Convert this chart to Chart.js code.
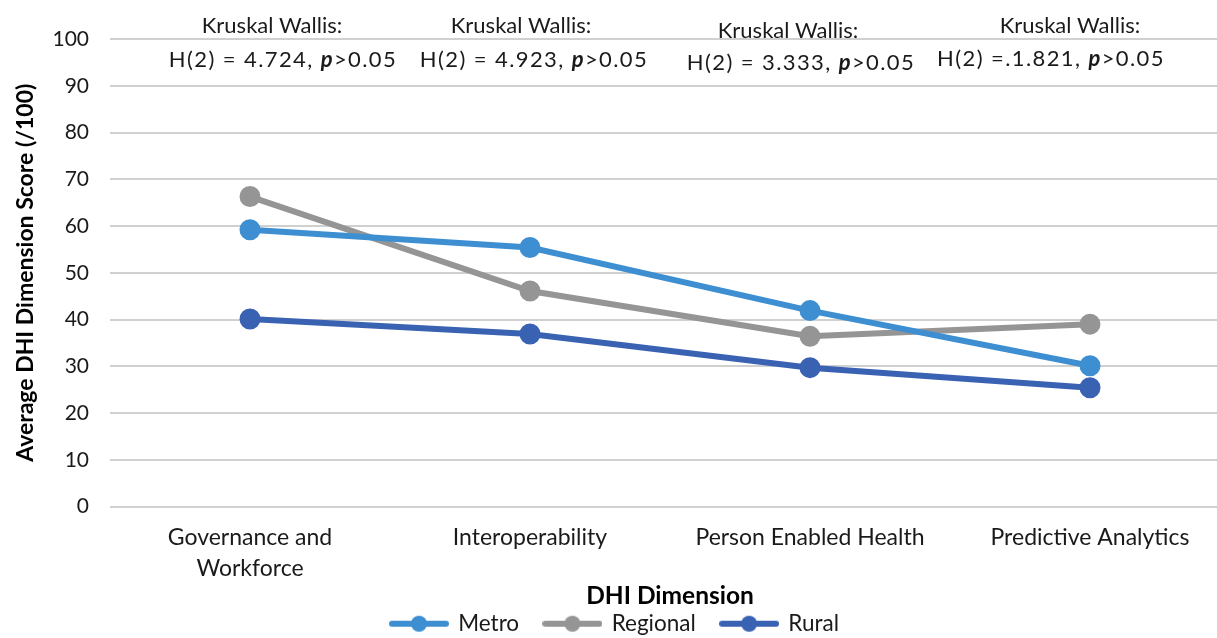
<!DOCTYPE html>
<html>
<head>
<meta charset="utf-8">
<script src="https://cdn.jsdelivr.net/npm/chart.js@4"></script>
<style>
  html, body { margin: 0; padding: 0; background: #fff; overflow: hidden; }
  #wrap { width: 1232px; height: 638px; }
</style>
</head>
<body>
<div id="wrap"><canvas id="chart"></canvas></div>
<script>
const categories = [["Governance and", "Workforce"], "Interoperability", "Person Enabled Health", "Predictive Analytics"];
const metro = [59.2, 55.4, 41.9, 30.1];
const regional = [66.3, 46.1, 36.4, 39.0];
const rural = [40.1, 36.9, 29.7, 25.4];
const yTicks = [0, 10, 20, 30, 40, 50, 60, 70, 80, 90, 100];
const testTitles = ["Kruskal Wallis:", "Kruskal Wallis:", "Kruskal Wallis:", "Kruskal Wallis:"];
const testStats = ["H(2) = 4.724, ", "H(2) = 4.923, ", "H(2) = 3.333, ", "H(2) =.1.821, "];
const testP = ">0.05";

const FONT = "Lato, 'Open Sans', sans-serif";
const colors = { metro: "#3d8fd2", regional: "#959595", rural: "#3a62b3" };

// legend swatch: a short line with a dot on it
function swatch(color) {
  const c = document.createElement("canvas");
  c.width = 60; c.height = 18;
  const g = c.getContext("2d");
  g.strokeStyle = color; g.lineWidth = 6; g.lineCap = "round";
  g.beginPath(); g.moveTo(3, 9); g.lineTo(57, 9); g.stroke();
  g.fillStyle = color;
  g.beginPath(); g.arc(30, 9, 8, 0, Math.PI * 2); g.fill();
  return c;
}

// Kruskal Wallis labels above each category
const textOffsets = [[22, 33], [-9, 4], [-22, -9], [-20, -39]];
const textRows = [[26, 60], [26, 60], [31, 63], [26, 59]];
const kwPlugin = {
  id: "kw",
  afterDraw(chart) {
    const ctx = chart.ctx;
    const xs = chart.scales.x;
    ctx.save();
    ctx.fillStyle = "#1a1a1a";
    ctx.textBaseline = "middle";
    categories.forEach((c, i) => {
      const cx = xs.getPixelForValue(i);
      ctx.letterSpacing = "0px";
      ctx.font = "22px " + FONT;
      ctx.textAlign = "center";
      ctx.fillText(testTitles[i], cx + textOffsets[i][0], textRows[i][0]);
      ctx.letterSpacing = "1.4px";
      const reg = "22px " + FONT, bi = "italic bold 22px " + FONT;
      ctx.font = reg; const w1 = ctx.measureText(testStats[i]).width, w3 = ctx.measureText(testP).width;
      ctx.font = bi; const w2 = ctx.measureText("p").width;
      let x = cx + textOffsets[i][1] - (w1 + w2 + w3) / 2;
      ctx.textAlign = "left";
      ctx.font = reg; ctx.fillText(testStats[i], x, textRows[i][1]); x += w1;
      ctx.font = bi; ctx.fillText("p", x, textRows[i][1]); x += w2;
      ctx.font = reg; ctx.fillText(testP, x, textRows[i][1]);
    });
    ctx.restore();
  }
};

function ds(label, data, color) {
  return {
    label, data,
    borderColor: color, backgroundColor: color,
    pointBackgroundColor: color, pointBorderColor: color,
    borderWidth: 6, pointRadius: 7.5, pointHoverRadius: 7.5,
    tension: 0
  };
}

new Chart(document.getElementById("chart"), {
  type: "line",
  data: {
    labels: categories,
    datasets: [
      ds("Metro", metro, colors.metro),
      ds("Regional", regional, colors.regional),
      ds("Rural", rural, colors.rural)
    ]
  },
  options: {
    responsive: true,
    maintainAspectRatio: false,
    animation: false,
    layout: { autoPadding: false, padding: { top: 39, right: 2, left: 0, bottom: -7 } },
    scales: {
      x: {
        offset: true,
        afterFit(axis) { axis.height = 98; },
        grid: { display: false, drawTicks: false },
        border: { display: false },
        ticks: { color: "#1a1a1a", font: { family: FONT, size: 23, lineHeight: 1.35 }, padding: 16, maxRotation: 0, autoSkip: false },
        title: { display: true, text: "DHI Dimension", color: "#000", font: { family: FONT, size: 24.5, weight: "bold", lineHeight: 1 }, padding: { top: 0, bottom: -4 } }
      },
      y: {
        min: 0, max: 100,
        afterFit(axis) { axis.width = 110; },
        afterBuildTicks(axis) { axis.ticks = yTicks.map(v => ({ value: v })); },
        grid: { color: "#d0d0d0", lineWidth: 2, drawTicks: false },
        border: { display: false },
        ticks: { color: "#1a1a1a", font: { family: FONT, size: 21 }, padding: 21 },
        title: { display: true, text: "Average DHI Dimension Score (/100)", color: "#000", font: { family: FONT, size: 23, weight: "bold" }, padding: { top: 12, bottom: 6 } }
      }
    },
    plugins: {
      legend: {
        position: "bottom",
        labels: {
          usePointStyle: true,
          pointStyleWidth: 56,
          padding: 8,
          color: "#1a1a1a",
          font: { family: FONT, size: 22.5 },
          generateLabels(chart) {
            const items = Chart.defaults.plugins.legend.labels.generateLabels(chart);
            const cs = [colors.metro, colors.regional, colors.rural];
            items.forEach((it, i) => {
              it.pointStyle = swatch(cs[i]);
              if (i < items.length - 1) it.text += "   ";
            });
            return items;
          }
        }
      },
      tooltip: { enabled: false }
    }
  },
  plugins: [kwPlugin]
});
</script>
</body>
</html>
